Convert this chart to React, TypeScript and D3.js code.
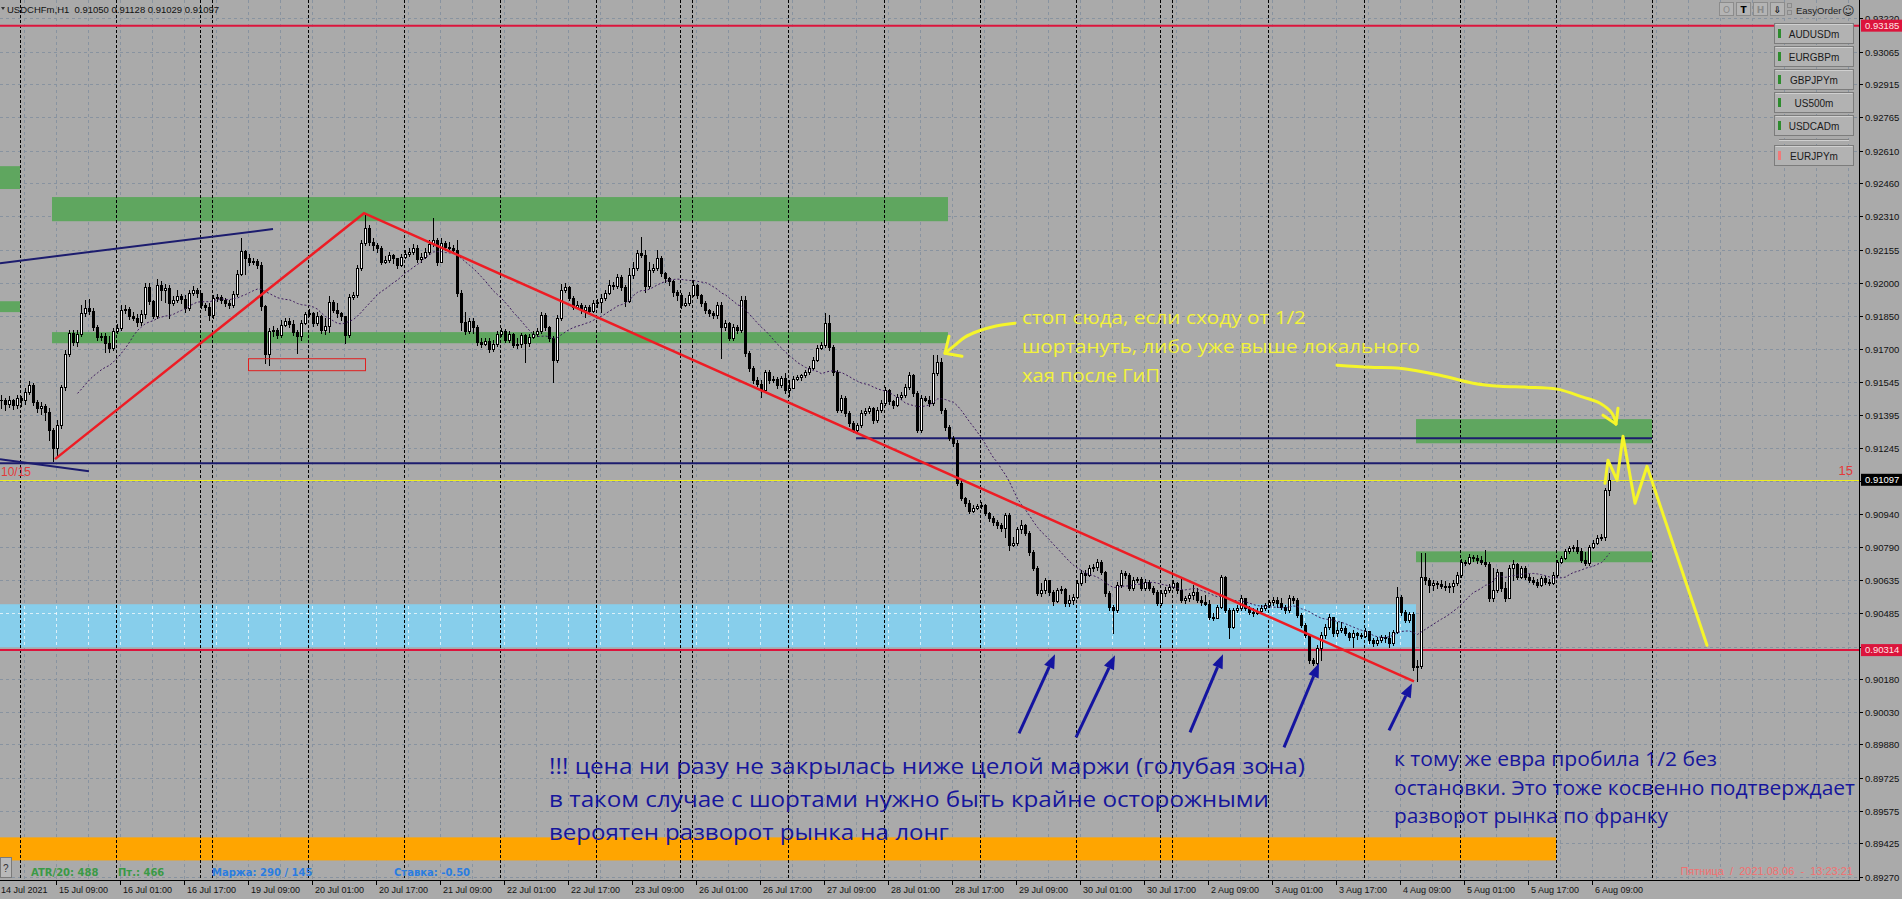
import { useEffect, useRef } from "react"
import * as d3 from "d3"

// one H1 bar = [close, high, low], in points above 0.90000
type Bar = [number, number, number]

// 14 Jul 19:00 .. 18 Jul 23:00
const week1: Bar[] = [
  [1463,1486,1426],[1445,1472,1417],[1463,1481,1431],[1440,1468,1422],[1472,1486,1426],
  [1463,1481,1435],[1500,1518,1445],[1532,1550,1491],[1454,1541,1440],[1426,1463,1408],
  [1435,1454,1399],[1408,1445,1371],[1325,1426,1279],[1242,1334,1183],[1348,1371,1210],
  [1523,1532,1334],[1675,1693,1509],[1771,1785,1665],[1730,1785,1716],[1767,1785,1711],
  [1863,1900,1757],[1886,1923,1849],[1872,1928,1859],[1799,1886,1785],[1753,1808,1739],
  [1757,1771,1739],[1725,1771,1684],[1702,1757,1684],[1780,1794,1693],[1794,1813,1771],
  [1877,1900,1785],[1882,1900,1863],[1849,1891,1836],[1840,1868,1831],[1822,1859,1803],
  [1859,1877,1808],[1983,2001,1840],[1918,2001,1905],[1849,1923,1840],[1992,2020,1840],
  [1969,2010,1923],[1978,1997,1914],[1909,1992,1840],[1923,1941,1900],[1941,1969,1914],
  [1928,1951,1909],[1886,1946,1868],[1955,1969,1877],[1969,1987,1946],[1955,1978,1937],
  [1900,1937,1886],[1891,1909,1877],[1854,1909,1831],
]

// 19 Jul .. 25 Jul
const week2: Bar[] = [
  [1932,1946,1840],[1937,1951,1918],[1923,1946,1909],[1909,1932,1895],[1900,1923,1886],
  [1951,1964,1891],[2043,2061,1941],[2148,2208,2038],[2116,2153,2043],[2098,2135,2084],
  [2102,2116,2089],[2084,2112,2070],[1895,2098,1877],[1675,1900,1633],[1780,1794,1624],
  [1785,1803,1757],[1762,1794,1748],[1808,1831,1753],[1826,1840,1803],[1813,1840,1799],
  [1776,1831,1762],[1757,1785,1679],[1817,1831,1739],[1859,1868,1813],[1863,1882,1849],
  [1817,1868,1803],[1849,1868,1808],[1785,1854,1771],[1803,1840,1767],[1914,1941,1776],
  [1877,1923,1868],[1863,1909,1845],[1849,1868,1831],[1762,1822,1725],[1937,1951,1753],
  [1946,1960,1928],[2070,2084,1937],[2185,2199,2061],[2254,2323,2176],[2190,2268,2176],
  [2176,2208,2153],[2162,2185,2144],[2098,2171,2089],[2107,2125,2093],[2130,2144,2098],
  [2116,2135,2093],[2084,2116,2070],[2121,2135,2079],[2135,2153,2116],[2144,2162,2125],
  [2162,2181,2135],[2112,2176,2098],[2121,2139,2098],[2144,2162,2116],[2181,2199,2135],
  [2199,2300,2171],[2098,2208,2084],[2185,2208,2098],[2167,2194,2153],[2162,2190,2153],
  [2153,2176,2139],[1955,2199,1941],[1822,1969,1785],[1780,1868,1767],[1826,1840,1771],
  [1799,1840,1771],[1730,1808,1716],[1721,1748,1707],[1734,1748,1716],[1698,1748,1684],
  [1721,1739,1688],[1767,1780,1711],[1780,1794,1757],[1739,1790,1730],[1767,1780,1730],
  [1716,1771,1707],[1721,1748,1702],[1762,1771,1707],[1725,1767,1638],[1753,1767,1711],
  [1767,1780,1748],[1780,1794,1757],[1854,1868,1771],[1799,1863,1785],[1748,1803,1734],
  [1647,1757,1546],[1840,1854,1638],[1969,1997,1831],[1983,2001,1960],[1932,1987,1923],
  [1891,1941,1882],[1900,1918,1886],[1877,1909,1863],[1891,1900,1845],[1872,1900,1863],
  [1909,1923,1868],[1914,1928,1891],[1932,1951,1868],[1955,1969,1923],[1992,2015,1951],
  [1987,2006,1974],[2029,2043,1978],[1983,2038,1969],[1918,1992,1895],[2038,2070,1914],
  [2070,2098,2024],[2139,2153,2061],[2130,2213,2121],[1987,2153,1960],[2061,2098,1978],
  [2070,2089,2052],[2116,2153,2061],[2047,2125,2033],[2024,2052,2006],[2010,2029,1992],
  [1960,2015,1941],[1946,1969,1923],[1900,1955,1886],[1909,1932,1895],[1946,1960,1900],
]

// 26 Jul .. 1 Aug
const week3: Bar[] = [
  [1992,2015,1941],[1946,1997,1932],[1909,1951,1895],[1877,1918,1863],[1863,1882,1849],
  [1854,1872,1840],[1900,1914,1840],[1799,1914,1656],[1817,1831,1785],[1748,1822,1739],
  [1799,1813,1739],[1785,1808,1771],[1923,1941,1776],[1679,1941,1665],[1610,1688,1596],
  [1555,1619,1541],[1537,1569,1527],[1509,1555,1477],[1592,1601,1500],[1555,1601,1541],
  [1560,1573,1546],[1532,1569,1518],[1564,1573,1523],[1509,1587,1495],[1518,1555,1481],
  [1560,1573,1546],[1569,1578,1555],[1578,1583,1555],[1592,1601,1569],[1610,1619,1583],
  [1647,1661,1606],[1702,1716,1642],[1716,1730,1698],[1817,1863,1707],[1707,1854,1693],
  [1592,1716,1578],[1417,1601,1408],[1472,1486,1408],[1403,1481,1389],[1357,1412,1343],
  [1325,1366,1316],[1348,1357,1320],[1403,1417,1339],[1412,1426,1394],[1426,1435,1403],
  [1371,1431,1357],[1417,1431,1362],[1449,1463,1408],[1509,1523,1440],[1458,1514,1445],
  [1440,1463,1426],[1477,1491,1435],[1486,1500,1468],[1523,1537,1477],[1578,1592,1514],
  [1495,1583,1481],[1325,1504,1316],[1472,1486,1316],[1463,1481,1458],[1449,1481,1435],
  [1587,1670,1440],[1638,1670,1578],[1417,1656,1403],[1339,1426,1325],[1288,1348,1279],
  [1265,1297,1251],[1081,1279,1072],[1012,1095,1003],[989,1017,975],[952,1003,943],
  [966,980,948],[975,985,962],[980,994,966],[943,985,934],[920,948,906],
  [902,929,888],[888,911,874],[874,897,860],[934,943,833],[796,943,773],
  [805,833,791],[870,879,796],[888,911,851],[851,893,842],[764,860,750],
  [690,773,681],[575,699,566],[589,621,561],[635,644,575],[580,635,566],
  [538,589,520],[589,598,534],[594,607,575],[529,598,515],[543,566,515],
  [557,571,525],[621,635,552],[667,681,612],[658,681,626],[690,704,653],
  [695,709,676],[718,732,681],[672,727,663],[575,676,561],[511,584,497],
  [497,520,391],[612,626,488],[667,681,603],[658,676,644],[598,667,589],
  [635,649,589],[640,649,626],[598,649,589],[626,640,589],[598,635,589],
  [580,607,571],[529,589,520],[575,589,520],[589,603,561],[603,617,580],
]

// 2 Aug .. 6 Aug 13:00
const week4: Bar[] = [
  [621,635,598],[589,626,575],[543,644,534],[552,561,529],[566,575,538],
  [580,612,548],[543,598,534],[534,561,520],[525,566,520],[465,543,456],
  [460,483,451],[511,520,460],[649,658,506],[497,653,488],[419,506,368],
  [497,506,414],[506,520,488],[552,566,497],[506,552,497],[488,515,479],
  [483,506,469],[492,506,479],[506,520,483],[520,529,497],[534,543,511],
  [543,557,520],[529,557,511],[511,552,502],[497,520,483],[552,566,488],
  [543,561,529],[474,552,465],[428,483,419],[382,437,373],[267,382,253],
  [253,276,244],[322,336,244],[382,396,267],[419,433,368],[465,479,410],
  [391,465,377],[405,442,377],[414,442,396],[391,423,382],[373,396,359],
  [391,405,327],[382,396,364],[377,391,368],[400,414,373],[359,396,345],
  [345,368,331],[359,373,336],[373,382,350],[368,382,350],[345,396,327],
  [396,405,336],[557,603,391],[488,566,474],[451,497,442],[479,488,442],
  [235,488,221],[239,267,170],[649,759,230],[635,759,617],[612,644,580],
  [621,635,589],[617,630,598],[607,635,598],[603,630,589],[607,621,580],
  [621,635,580],[658,672,612],[718,732,649],[713,727,704],[741,755,709],
  [736,750,722],[727,750,713],[718,745,709],[709,773,699],[552,718,538],
  [589,690,538],[672,686,580],[598,667,584],[552,626,538],[690,704,552],
  [709,727,635],[649,713,640],[690,699,644],[649,699,640],[635,663,626],
  [626,649,617],[612,640,603],[644,653,607],[626,653,617],[621,640,612],
  [658,672,617],[718,727,649],[736,745,713],[768,778,732],[782,791,759],
  [787,796,768],[768,819,759],[727,782,718],[713,764,704],[787,796,704],
  [805,819,782],[828,842,801],[833,847,819],[1050,1058,819],[1097,1128,1029],
]

// trading sessions: day, first hour, number of H1 bars
const sessions: [string, number, number][] = [
  ["14 Jul", 19, 5], ["15 Jul", 0, 24], ["16 Jul", 0, 21], ["18 Jul", 21, 3],
  ["19 Jul", 0, 24], ["20 Jul", 0, 24], ["21 Jul", 0, 24], ["22 Jul", 0, 24], ["23 Jul", 0, 21], ["25 Jul", 21, 3],
  ["26 Jul", 0, 24], ["27 Jul", 0, 24], ["28 Jul", 0, 24], ["29 Jul", 0, 24], ["30 Jul", 0, 21], ["1 Aug", 21, 3],
  ["2 Aug", 0, 24], ["3 Aug", 0, 24], ["4 Aug", 0, 24], ["5 Aug", 0, 24], ["6 Aug", 0, 24], ["7 Aug", 0, 1],
]

const priceTicks = [
  "0.93220", "0.93065", "0.92915", "0.92765", "0.92610", "0.92460", "0.92310", "0.92155", "0.92000",
  "0.91850", "0.91700", "0.91545", "0.91395", "0.91245", "0.91090", "0.90940", "0.90790", "0.90635",
  "0.90485", "0.90330", "0.90180", "0.90030", "0.89880", "0.89725", "0.89575", "0.89425", "0.89270",
]

const header = ["USDCHFm,H1", "0.91050", "0.91128", "0.91029", "0.91097"]
const redLevels = [0.93185, 0.90314]
const lastPrice = 0.91097

// [from bar, to bar, top price, bottom price]
const greenZones: [number, number, number, number][] = [
  [-5, 5, 0.92539, 0.92434],
  [-5, 5, 0.91918, 0.91868],
  [13, 237, 0.92397, 0.92286],
  [13, 237, 0.91776, 0.91725],
  [354, 413, 0.91376, 0.91265],
  [354, 413, 0.90768, 0.90718],
]
const marginZone: [number, number, number, number] = [-5, 354, 0.90525, 0.90327]
const orangeZone: [number, number, number, number] = [-5, 389, 0.89453, 0.89347]
const lowBox: [number, number, number, number] = [62, 91.25, 0.91656, 0.91601]

// [price, from bar, to bar]
const navyLevels: [number, number, number][] = [[0.91288, 214, 413], [0.91173, -5, 413]]

type Pt = [number, number]
const navyTrends: Pt[][] = [
  [[0, 0.92093], [68.25, 0.9225]],
  [[0, 0.91192], [22.25, 0.91136]],
]
const redZigzag: Pt[] = [[13.75, 0.91192], [91, 0.92323], [353.5, 0.9017]]
const forecast: Pt[] = [
  [401.25, 0.91081], [402, 0.91187], [404.25, 0.91095], [405.75, 0.91297],
  [408.75, 0.90989], [411.75, 0.91159], [426.75, 0.90336],
]
const stopArrow: Pt[] = [
  [253.75, 0.91817], [248.75, 0.91803], [244.5, 0.9178], [241.25, 0.91753], [238.75, 0.91716], [236.25, 0.91679],
]
const stopArrowHead: Pt[] = [[240.5, 0.91665], [236.25, 0.91679], [237.25, 0.91757]]
const zoneArrow: Pt[] = [
  [334.25, 0.91624], [342.5, 0.91615], [350, 0.9161], [360, 0.91578], [368.25, 0.91541], [375, 0.91527],
  [381.75, 0.91523], [389.25, 0.91514], [395.75, 0.91477], [400, 0.91449], [403, 0.91403], [404, 0.91353],
]
const zoneArrowHead: Pt[] = [[400.75, 0.91394], [404, 0.91353], [404.5, 0.91426]]
const blueArrows: Pt[][] = [
  [[254.75, 0.89931], [263.75, 0.90295]],
  [[269, 0.89913], [278.75, 0.9029]],
  [[297.5, 0.89936], [305.75, 0.90295]],
  [[321, 0.89867], [329.75, 0.90253]],
  [[347.25, 0.89945], [353, 0.90161]],
]

const yellowNote = ["стоп сюда, если сходу от 1/2", "шортануть, либо уже выше локального", "хая после ГиП"]
const leftNote = [
  "!!! цена ни разу не закрылась ниже целой маржи (голубая зона)",
  "в таком случае с шортами нужно быть крайне осторожными",
  "вероятен разворот рынка на лонг",
]
const rightNote = ["к тому же евра пробила 1/2 без", "остановки. Это тоже косвенно подтверждает", "разворот рынка по франку"]
const symbols = ["AUDUSDm", "EURGBPm", "GBPJPYm", "US500m", "USDCADm", "EURJPYm"]

const W = 1902
const H = 899
const PR = 1859
const PB = 880
const SANS = "'Liberation Sans', Arial, sans-serif"
const NOTE = "'Open Sans', 'Noto Sans', 'DejaVu Sans', sans-serif"

export default function App() {
  const svgRef = useRef<SVGSVGElement>(null)

  useEffect(() => {
    if (!svgRef.current) return
    document.body.style.margin = "0"
    const svg = d3.select(svgRef.current)
    svg.selectAll("*").remove()

    const raw = [...week1, ...week2, ...week3, ...week4]
    const bars = raw.map((b, i) => ({
      i,
      close: 0.9 + b[0] / 1e5,
      high: 0.9 + b[1] / 1e5,
      low: 0.9 + b[2] / 1e5,
      open: 0.9 + (i === 0 ? b[0] : raw[i - 1][0]) / 1e5,
    }))

    const slots = sessions.flatMap(([day, h0, n], si) =>
      d3.range(n).map(k => ({ day, hour: h0 + k, first: k === 0 && si > 0 })))

    const x = d3.scaleLinear().domain([0, 1]).range([0, 4])
    const y = d3.scaleLinear().domain([0.89257, 0.93303]).range([PB, 0])
    const line = d3.line<Pt>().x(d => x(d[0])).y(d => y(d[1]))

    svg.append("rect").attr("width", W).attr("height", H).attr("fill", "#aaaaaa")

    const defs = svg.append("defs")
    defs.append("clipPath").attr("id", "plot").append("rect").attr("width", PR).attr("height", PB)
    defs.append("clipPath").attr("id", "marg").append("rect")
      .attr("x", x(marginZone[0])).attr("width", x(marginZone[1]) - x(marginZone[0]))
      .attr("y", y(marginZone[2])).attr("height", y(marginZone[3]) - y(marginZone[2]))

    const plot = svg.append("g").attr("clip-path", "url(#plot)")

    // grid
    const gridX = d3.range(6, 466, 8)
    const grid = (g: d3.Selection<SVGGElement, unknown, null, undefined>, color: string, op: number) => {
      g.selectAll("line.gx").data(gridX).enter().append("line")
        .attr("x1", d => x(d) + 0.5).attr("x2", d => x(d) + 0.5).attr("y1", 0).attr("y2", PB)
      g.selectAll("line.gy").data(priceTicks).enter().append("line")
        .attr("x1", 0).attr("x2", PR)
        .attr("y1", d => Math.round(y(+d)) + 0.5).attr("y2", d => Math.round(y(+d)) + 0.5)
      g.selectAll("line").attr("stroke", color).attr("stroke-dasharray", "3,3").attr("opacity", op)
    }
    grid(plot.append("g"), "#8893a0", 1)

    // zones
    const zone = (z: [number, number, number, number], fill: string) =>
      plot.append("rect")
        .attr("x", x(z[0])).attr("width", x(z[1]) - x(z[0]))
        .attr("y", y(z[2])).attr("height", y(z[3]) - y(z[2]))
        .attr("fill", fill)
    zone(marginZone, "#87ceeb")
    grid(plot.append("g").attr("clip-path", "url(#marg)"), "#ffffff", 0.7)
    greenZones.forEach(z => zone(z, "#5fa65f"))
    zone(orangeZone, "#ffa500")

    // period separators
    const seps = slots.map((s, i) => (s.first ? i : -1)).filter(i => i >= 0)
    plot.selectAll("line.sep").data(seps).enter().append("line")
      .attr("x1", d => x(d) + 0.5).attr("x2", d => x(d) + 0.5).attr("y1", 0).attr("y2", PB)
      .attr("stroke", "#000").attr("stroke-dasharray", "3,2")

    // horizontal levels
    redLevels.forEach(p => plot.append("line").attr("x1", 0).attr("x2", PR)
      .attr("y1", y(p)).attr("y2", y(p)).attr("stroke", "#dc143c").attr("stroke-width", 2))
    plot.append("line").attr("x1", 0).attr("x2", PR).attr("y1", Math.round(y(lastPrice)) + 0.5)
      .attr("y2", Math.round(y(lastPrice)) + 0.5).attr("stroke", "#f0f020")
    navyLevels.forEach(([p, a, b]) => plot.append("line").attr("x1", x(a)).attr("x2", x(b))
      .attr("y1", y(p)).attr("y2", y(p)).attr("stroke", "#1c1c6e").attr("stroke-width", 2))

    // candles
    const cg = plot.append("g").attr("shape-rendering", "crispEdges")
    bars.forEach(b => {
      const cx = x(b.i) + 1.5
      const hi = Math.max(b.high, b.open, b.close)
      const lo = Math.min(b.low, b.open, b.close)
      cg.append("line").attr("x1", cx).attr("x2", cx)
        .attr("y1", Math.round(y(hi))).attr("y2", Math.round(y(lo)) + 1).attr("stroke", "#000")
      const top = Math.round(y(Math.max(b.open, b.close)))
      const bot = Math.round(y(Math.min(b.open, b.close)))
      if (bot - top < 1) {
        cg.append("line").attr("x1", x(b.i)).attr("x2", x(b.i) + 3)
          .attr("y1", top + 0.5).attr("y2", top + 0.5).attr("stroke", "#000")
      } else {
        cg.append("rect").attr("x", x(b.i) + 0.5).attr("y", top + 0.5)
          .attr("width", 2).attr("height", bot - top)
          .attr("fill", b.close >= b.open ? "#ffffff" : "#000000").attr("stroke", "#000")
      }
    })

    // moving average (20)
    const ma: Pt[] = bars.filter(b => b.i >= 19)
      .map(b => [b.i + 0.375, d3.mean(bars.slice(b.i - 19, b.i + 1), d => d.close) as number])
    plot.append("path").attr("d", line(ma)).attr("fill", "none")
      .attr("stroke", "#3e1c5e").attr("stroke-dasharray", "2,2")

    // trend lines
    navyTrends.forEach(t => plot.append("path").attr("d", line(t)).attr("fill", "none")
      .attr("stroke", "#1c1c6e").attr("stroke-width", 2))
    plot.append("path").attr("d", line(redZigzag)).attr("fill", "none")
      .attr("stroke", "#ee1c24").attr("stroke-width", 2.5)
    plot.append("rect")
      .attr("x", x(lowBox[0]) + 0.5).attr("width", x(lowBox[1]) - x(lowBox[0]))
      .attr("y", y(lowBox[2]) + 0.5).attr("height", y(lowBox[3]) - y(lowBox[2]))
      .attr("fill", "none").attr("stroke", "#e02020")

    // yellow drawings
    const yel = { fill: "none", stroke: "#f5f52a", "stroke-width": 3, "stroke-linecap": "round", "stroke-linejoin": "round" }
    const yellowPath = (pts: Pt[], curve: boolean) => {
      const p = plot.append("path").attr("d", curve ? line.curve(d3.curveCatmullRom)(pts) : line.curve(d3.curveLinear)(pts))
      Object.entries(yel).forEach(([k, v]) => p.attr(k, v))
      line.curve(d3.curveLinear)
    }
    yellowPath(forecast, false)
    yellowPath(stopArrow, true)
    yellowPath(stopArrowHead, false)
    yellowPath(zoneArrow, true)
    yellowPath(zoneArrowHead, false)

    // blue arrows
    blueArrows.forEach(([a, b]) => {
      const x1 = x(a[0]), y1 = y(a[1]), x2 = x(b[0]), y2 = y(b[1])
      const ang = Math.atan2(y2 - y1, x2 - x1)
      const len = 14, half = 5.5
      const bx = x2 - len * Math.cos(ang), by = y2 - len * Math.sin(ang)
      plot.append("line").attr("x1", x1).attr("y1", y1).attr("x2", bx).attr("y2", by)
        .attr("stroke", "#1414a0").attr("stroke-width", 3)
      plot.append("polygon").attr("fill", "#1414a0").attr("points", [
        [x2, y2],
        [bx + half * Math.sin(ang), by - half * Math.cos(ang)],
        [bx - half * Math.sin(ang), by + half * Math.cos(ang)],
      ].map(p => p.join(",")).join(" "))
    })

    // notes
    const note = (lines: string[], x0: number, y0: number, step: number, size: number,
      widths: number[], fill: string) => {
      lines.forEach((t, k) => plot.append("text").attr("x", x0).attr("y", y0 + k * step)
        .attr("font-family", NOTE).attr("font-size", size).attr("fill", fill)
        .attr("textLength", widths[k]).attr("lengthAdjust", "spacingAndGlyphs").text(t))
    }
    note(yellowNote, 1022, 324, 29, 18, [284, 398, 138], "#f2f23c")
    note(leftNote, 549, 774, 33, 22, [756, 720, 400], "#16169c")
    note(rightNote, 1394, 766, 28.5, 20, [323, 461, 274], "#16169c")

    plot.append("text").attr("x", 1).attr("y", 476).attr("font-family", SANS).attr("font-size", 12)
      .attr("fill", "#e23a3a").text("10/15")
    plot.append("text").attr("x", 1853).attr("y", 475).attr("text-anchor", "end")
      .attr("font-family", SANS).attr("font-size", 13).attr("fill", "#e23a3a").text("15")

    // info line
    const info: [string, number, string][] = [
      ["ATR/20: 488", 31, "#3a9a46"], ["Пт.: 466", 118, "#3a9a46"],
      ["Маржа: 290 / 145", 212, "#2a7de1"], ["Ставка: -0.50", 394, "#2a7de1"],
    ]
    info.forEach(([t, x0, c]) => plot.append("text").attr("x", x0).attr("y", 876)
      .attr("font-family", "'DejaVu Sans', sans-serif").attr("font-weight", "bold")
      .attr("font-size", 10).attr("fill", c).text(t))
    plot.append("rect").attr("x", 0.5).attr("y", 857.5).attr("width", 11).attr("height", 20)
      .attr("fill", "#b9b9b9").attr("stroke", "#7a7a7a")
    plot.append("text").attr("x", 3).attr("y", 872).attr("font-family", SANS).attr("font-size", 10)
      .attr("fill", "#333").text("?")
    plot.append("text").attr("x", 1853).attr("y", 875).attr("text-anchor", "end")
      .attr("font-family", SANS).attr("font-size", 11).attr("fill", "#f27070")
      .style("white-space", "pre").text("Пятница  /  2021.08.06  -  13:23:21")

    // header
    svg.append("path").attr("d", "M1,7 L5,7 L3,10 Z").attr("fill", "#333")
    svg.append("text").attr("x", 7).attr("y", 13).attr("font-family", SANS).attr("font-size", 9.5)
      .attr("fill", "#111").style("white-space", "pre")
      .text(header[0] + "  " + header.slice(1).join(" "))

    // frame
    svg.append("line").attr("x1", PR + 0.5).attr("x2", PR + 0.5).attr("y1", 0).attr("y2", PB + 1).attr("stroke", "#000")
    svg.append("line").attr("x1", 0).attr("x2", PR + 1).attr("y1", PB + 0.5).attr("y2", PB + 0.5).attr("stroke", "#000")

    // price axis
    priceTicks.forEach(t => {
      const yy = Math.round(y(+t)) + 0.5
      svg.append("line").attr("x1", PR).attr("x2", PR + 4).attr("y1", yy).attr("y2", yy).attr("stroke", "#000")
      svg.append("text").attr("x", 1865).attr("y", yy).attr("dy", "0.35em").attr("font-family", SANS)
        .attr("font-size", 9.5).attr("fill", "#111").text(t)
    })
    const tag = (p: number, fill: string, color: string) => {
      const yy = y(p)
      svg.append("rect").attr("x", PR + 2).attr("y", yy - 6).attr("width", W - PR - 2).attr("height", 12).attr("fill", fill)
      svg.append("text").attr("x", 1865).attr("y", yy).attr("dy", "0.35em").attr("font-family", SANS)
        .attr("font-size", 9.5).attr("fill", color).text(p.toFixed(5))
    }
    redLevels.forEach(p => tag(p, "#dc143c", "#ffe4e4"))
    tag(lastPrice, "#000000", "#ffffff")

    // time axis
    const labelBars = [-2, ...d3.range(14, bars.length, 16)]
    labelBars.forEach(i => {
      const s = slots[i]
      const txt = s ? `${s.day} ${String(s.hour).padStart(2, "0")}:00` : "14 Jul 2021"
      const lx = s ? x(i) + 3 : 1
      svg.append("line").attr("x1", x(i) + 0.5).attr("x2", x(i) + 0.5).attr("y1", PB).attr("y2", PB + 5).attr("stroke", "#000")
      svg.append("text").attr("x", lx).attr("y", 893).attr("font-family", SANS)
        .attr("font-size", 9).attr("fill", "#111").text(txt)
    })

    // EasyOrder toolbar
    const tools: [string, string, string][] = [["O", "#8a8a8a", "normal"], ["T", "#000", "bold"], ["H", "#8a8a8a", "bold"], ["⇩", "#000", "bold"]]
    tools.forEach(([t, c, w], k) => {
      const bx = 1719 + k * 17
      svg.append("rect").attr("x", bx + 0.5).attr("y", 2.5).attr("width", 14).attr("height", 13)
        .attr("fill", "#b4b4b4").attr("stroke", "#8c8c8c")
      svg.append("text").attr("x", bx + 7.5).attr("y", 13).attr("text-anchor", "middle")
        .attr("font-family", "'DejaVu Sans', sans-serif").attr("font-size", 9).attr("font-weight", w)
        .attr("fill", c).text(t)
    })
    ;[3, 10].forEach(yy => svg.append("rect").attr("x", 1787.5).attr("y", yy + 0.5).attr("width", 4).attr("height", 4)
      .attr("fill", "none").attr("stroke", "#8c8c8c"))
    svg.append("text").attr("x", 1796).attr("y", 14).attr("font-family", SANS).attr("font-size", 9.5)
      .attr("fill", "#222").text("EasyOrder")
    svg.append("text").attr("x", 1842).attr("y", 15).attr("font-family", "'DejaVu Sans', sans-serif")
      .attr("font-size", 12).attr("fill", "#222").text("☺")

    // symbol buttons
    const tops = [23, 46, 69, 92, 115, 145]
    symbols.forEach((s, k) => {
      const g = svg.append("g").attr("transform", `translate(1774,${tops[k]})`)
      g.append("rect").attr("x", 0.5).attr("y", 0.5).attr("width", 79).attr("height", 20)
        .attr("fill", "#b2b2b2").attr("stroke", "#7c7c7c")
      g.append("line").attr("x1", 1.5).attr("x2", 78.5).attr("y1", 1.5).attr("y2", 1.5).attr("stroke", "#d0d0d0")
      g.append("rect").attr("x", 4).attr("y", 6).attr("width", 3).attr("height", 9)
        .attr("fill", k === symbols.length - 1 ? "#f07a7a" : "#2e8b2e")
      g.append("text").attr("x", 40).attr("y", 14.5).attr("text-anchor", "middle").attr("font-family", SANS)
        .attr("font-size", 10).attr("fill", "#1a1a1a").text(s)
    })
    svg.append("line").attr("x1", 1779).attr("x2", 1849).attr("y1", 139.5).attr("y2", 139.5).attr("stroke", "#808080")
    svg.append("line").attr("x1", 1779).attr("x2", 1849).attr("y1", 140.5).attr("y2", 140.5).attr("stroke", "#cfcfcf")
  }, [])

  return (
    <svg
      ref={svgRef}
      width={W}
      height={H}
      viewBox={`0 0 ${W} ${H}`}
      style={{ position: "absolute", left: 0, top: 0, display: "block" }}
      xmlns="http://www.w3.org/2000/svg"
    ></svg>
  )
}
